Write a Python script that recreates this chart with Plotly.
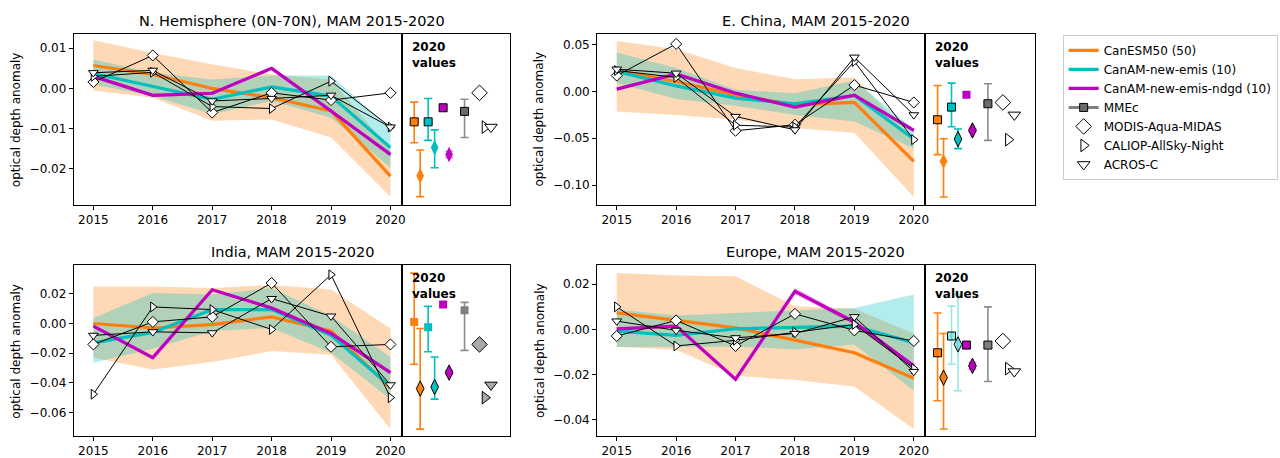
import plotly.graph_objects as go

years = [2015, 2016, 2017, 2018, 2019, 2020]

titles = ["N. Hemisphere (0N-70N), MAM 2015-2020", "E. China, MAM 2015-2020",
          "India, MAM 2015-2020", "Europe, MAM 2015-2020"]
names_models = ["CanESM50 (50)", "CanAM-new-emis (10)", "CanAM-new-emis-ndgd (10)", "MMEc"]
names_obs = ["MODIS-Aqua-MIDAS", "CALIOP-AllSky-Night", "ACROS-C"]

# ---------------- N. Hemisphere ----------------
nh_canesm = [0.0057, 0.0035, 0.0000, -0.0023, -0.0056, -0.0218]
nh_canesm_lo = [-0.0005, -0.0023, -0.0080, -0.0077, -0.0122, -0.0269]
nh_canesm_hi = [0.0120, 0.0088, 0.0060, 0.0035, 0.0022, -0.0153]
nh_new = [0.0037, 0.0006, -0.0027, 0.0004, -0.0019, -0.0147]
nh_new_lo = [0.0010, -0.0019, -0.0064, -0.0031, -0.0073, -0.0197]
nh_new_hi = [0.0072, 0.0039, 0.0022, 0.0032, 0.0032, -0.0100]
nh_ndgd = [0.0030, -0.0017, -0.0012, 0.0050, -0.0056, -0.0164]
nh_ndgd_sp = [0.0004, 0.0004, 0.0004, 0.0004, 0.0004, 0.0006]
nh_modis = [0.0016, 0.0082, -0.0060, -0.0011, -0.0029, -0.0011]
nh_caliop = [0.0030, 0.0040, -0.0045, -0.0050, 0.0018, -0.0096]
nh_acros = [0.0039, 0.0045, -0.0031, -0.0025, -0.0017, -0.0096]
nh_sq = [-0.0083, -0.0083, -0.0048, -0.0057]
nh_sq_lo = [-0.0135, -0.0129, -0.0051, -0.0122]
nh_sq_hi = [-0.0034, -0.0025, -0.0045, -0.0027]
nh_dm = [-0.0217, -0.0147, -0.0164]
nh_dm_lo = [-0.0269, -0.0197, -0.0172]
nh_dm_hi = [-0.0153, -0.0103, -0.0156]

# ---------------- E. China ----------------
ec_canesm = [0.0224, 0.0107, -0.0036, -0.0142, -0.0117, -0.0746]
ec_canesm_lo = [-0.0213, -0.0250, -0.0300, -0.0390, -0.0440, -0.1127]
ec_canesm_hi = [0.0540, 0.0450, 0.0250, 0.0130, 0.0150, -0.0505]
ec_new = [0.0213, 0.0060, -0.0071, -0.0131, -0.0043, -0.0508]
ec_new_lo = [0.0090, -0.0080, -0.0153, -0.0250, -0.0320, -0.0610]
ec_new_hi = [0.0416, 0.0250, 0.0018, -0.0018, 0.0117, -0.0400]
ec_ndgd = [0.0025, 0.0188, -0.0018, -0.0167, -0.0039, -0.0416]
ec_ndgd_sp = [0.0015, 0.0015, 0.0015, 0.0015, 0.0015, 0.0020]
ec_modis = [0.0170, 0.0508, -0.0420, -0.0355, 0.0068, -0.0117]
ec_caliop = [0.0224, 0.0150, -0.0360, -0.0380, 0.0320, -0.0515]
ec_acros = [0.0238, 0.0195, -0.0267, -0.0410, 0.0366, -0.0250]
ec_sq = [-0.0302, -0.0167, -0.0036, -0.0131]
ec_sq_lo = [-0.0675, -0.0377, -0.0056, -0.0522]
ec_sq_hi = [0.0064, 0.0089, -0.0016, 0.0082]
ec_dm = [-0.0746, -0.0508, -0.0416]
ec_dm_lo = [-0.1127, -0.0610, -0.0436]
ec_dm_hi = [-0.0505, -0.0400, -0.0396]

# ---------------- India ----------------
in_canesm = [0.0000, -0.0030, -0.0007, 0.0045, -0.0050, -0.0435]
in_canesm_lo = [-0.0230, -0.0310, -0.0260, -0.0186, -0.0210, -0.0712]
in_canesm_hi = [0.0250, 0.0250, 0.0240, 0.0260, 0.0230, -0.0034]
in_new = [-0.0130, -0.0060, 0.0094, 0.0094, -0.0080, -0.0425]
in_new_lo = [-0.0264, -0.0170, -0.0050, -0.0030, -0.0197, -0.0510]
in_new_hi = [0.0038, 0.0206, 0.0195, 0.0240, 0.0050, -0.0226]
in_ndgd = [-0.0018, -0.0230, 0.0228, 0.0105, -0.0067, -0.0331]
in_ndgd_sp = [0.0010, 0.0010, 0.0010, 0.0010, 0.0010, 0.0012]
in_modis = [-0.0141, 0.0011, 0.0045, 0.0273, -0.0157, -0.0141]
in_caliop = [-0.0477, 0.0112, 0.0094, -0.0040, 0.0329, -0.0500]
in_acros = [-0.0080, -0.0056, -0.0063, 0.0168, 0.0050, -0.0414]
in_sq = [0.0011, -0.0025, 0.0128, 0.0090]
in_sq_lo = [-0.0275, -0.0190, 0.0113, -0.0181]
in_sq_hi = [0.0340, 0.0116, 0.0143, 0.0143]
in_dm = [-0.0439, -0.0428, -0.0331]
in_dm_lo = [-0.0712, -0.0510, -0.0346]
in_dm_hi = [-0.0034, -0.0226, -0.0316]

# ---------------- Europe ----------------
eu_canesm = [0.0073, 0.0040, 0.0007, -0.0047, -0.0103, -0.0216]
eu_canesm_lo = [-0.0076, -0.0090, -0.0205, -0.0223, -0.0252, -0.0440]
eu_canesm_hi = [0.0250, 0.0238, 0.0235, 0.0103, 0.0091, -0.0018]
eu_new = [-0.0007, -0.0026, 0.0003, 0.0010, 0.0015, -0.0059]
eu_new_lo = [-0.0078, -0.0076, -0.0076, -0.0088, -0.0066, -0.0271]
eu_new_hi = [0.0088, 0.0062, 0.0073, 0.0085, 0.0095, 0.0154]
eu_ndgd = [0.0003, 0.0015, -0.0220, 0.0169, 0.0032, -0.0161]
eu_ndgd_sp = [0.0006, 0.0006, 0.0008, 0.0014, 0.0010, 0.0010]
eu_modis = [-0.0029, 0.0040, -0.0073, 0.0069, -0.0004, -0.0051]
eu_caliop = [0.0100, -0.0073, -0.0048, -0.0012, 0.0022, -0.0173]
eu_acros = [0.0037, -0.0004, -0.0037, -0.0018, 0.0056, -0.0186]
eu_sq = [-0.0103, -0.0029, -0.0069, -0.0069]
eu_sq_lo = [-0.0315, -0.0154, -0.0074, -0.0230]
eu_sq_hi = [0.0073, 0.0103, -0.0064, 0.0100]
eu_dm = [-0.0213, -0.0066, -0.0161]
eu_dm_lo = [-0.0440, -0.0271, -0.0176]
eu_dm_hi = [-0.0018, 0.0154, -0.0146]

# side-panel horizontal slots (pixel units within the side panel)
side_sq_x = [12.5, 26.5, 41.5, 63]
side_dm_x = [18.5, 33, 47.5]
side_obs_x = [78, 83.5, 89.5]

W, H = 1280, 458
ORANGE = "#ff7f0e"
CYAN = "#00bfbf"
MAG = "#bf00bf"
ORANGE_F = "rgba(255,127,14,0.30)"
CYAN_F = "rgba(0,191,191,0.30)"
MAG_F = "rgba(191,0,191,0.30)"
FONT = "DejaVu Sans"

panels = [
    dict(title=titles[0], canesm=(nh_canesm, nh_canesm_lo, nh_canesm_hi), new=(nh_new, nh_new_lo, nh_new_hi),
         ndgd=(nh_ndgd, nh_ndgd_sp), obs=(nh_modis, nh_caliop, nh_acros),
         sq=(nh_sq, nh_sq_lo, nh_sq_hi), dm=(nh_dm, nh_dm_lo, nh_dm_hi),
         yr=[-0.02886, 0.01355], dtick=0.01, px=(74, 403, 512), py=(34, 205),
         sq_edge=[1, 1, 1, 1], dm_edge=[0, 0, 0], obsfill="white", cyan_alpha=1.0),
    dict(title=titles[1], canesm=(ec_canesm, ec_canesm_lo, ec_canesm_hi), new=(ec_new, ec_new_lo, ec_new_hi),
         ndgd=(ec_ndgd, ec_ndgd_sp), obs=(ec_modis, ec_caliop, ec_acros),
         sq=(ec_sq, ec_sq_lo, ec_sq_hi), dm=(ec_dm, ec_dm_lo, ec_dm_hi),
         yr=[-0.1208, 0.0615], dtick=0.05, px=(599, 928, 1038), py=(34, 205),
         sq_edge=[1, 1, 0, 1], dm_edge=[0, 1, 1], obsfill="white", cyan_alpha=1.0),
    dict(title=titles[2], canesm=(in_canesm, in_canesm_lo, in_canesm_hi), new=(in_new, in_new_lo, in_new_hi),
         ndgd=(in_ndgd, in_ndgd_sp), obs=(in_modis, in_caliop, in_acros),
         sq=(in_sq, in_sq_lo, in_sq_hi), dm=(in_dm, in_dm_lo, in_dm_hi),
         yr=[-0.0759, 0.0392], dtick=0.02, px=(74, 403, 512), py=(266, 437),
         sq_edge=[0, 0, 0, 0], dm_edge=[1, 1, 1], obsfill="#a9a9a9", cyan_alpha=1.0),
    dict(title=titles[3], canesm=(eu_canesm, eu_canesm_lo, eu_canesm_hi), new=(eu_new, eu_new_lo, eu_new_hi),
         ndgd=(eu_ndgd, eu_ndgd_sp), obs=(eu_modis, eu_caliop, eu_acros),
         sq=(eu_sq, eu_sq_lo, eu_sq_hi), dm=(eu_dm, eu_dm_lo, eu_dm_hi),
         yr=[-0.0471, 0.0283], dtick=0.02, px=(599, 928, 1038), py=(266, 437),
         sq_edge=[1, 1, 1, 1], dm_edge=[1, 1, 1], obsfill="white", cyan_alpha=0.4),
]

fig = go.Figure()
layout = {}
annotations = []

def band(x, lo, hi, color, xa, ya):
    return go.Scatter(x=list(x) + list(x)[::-1], y=list(hi) + list(lo)[::-1], fill="toself",
                      fillcolor=color, line=dict(width=0), mode="lines", hoverinfo="skip",
                      showlegend=False, xaxis=xa, yaxis=ya)

for i, p in enumerate(panels):
    mi = 2 * i + 1
    si = 2 * i + 2
    xa_m, ya_m = f"x{mi}", f"y{mi}"
    xa_s, ya_s = f"x{si}", f"y{si}"
    x0, xs, x1 = p["px"]
    ytop, ybot = p["py"]
    dom_y = [1 - ybot / H, 1 - ytop / H]
    first = (i == 0)

    c, clo, chi = p["canesm"]
    n, nlo, nhi = p["new"]
    g, gsp = p["ndgd"]
    glo = [a - b for a, b in zip(g, gsp)]
    ghi = [a + b for a, b in zip(g, gsp)]
    fig.add_trace(band(years, clo, chi, ORANGE_F, xa_m, ya_m))
    fig.add_trace(band(years, nlo, nhi, CYAN_F, xa_m, ya_m))
    fig.add_trace(band(years, glo, ghi, MAG_F, xa_m, ya_m))
    for vals, col, nm, rk in [(c, ORANGE, names_models[0], 1), (n, CYAN, names_models[1], 2),
                              (g, MAG, names_models[2], 3)]:
        fig.add_trace(go.Scatter(x=years, y=vals, mode="lines", line=dict(color=col, width=3.2),
                                 name=nm, legendrank=rk, showlegend=first, xaxis=xa_m, yaxis=ya_m))
    syms = ["diamond", "triangle-right", "triangle-down"]
    msz = [8.5, 8.5, 8.5]
    for vals, sym, sz, nm in zip(p["obs"], syms, msz, names_obs):
        fig.add_trace(go.Scatter(x=years, y=vals, mode="lines+markers",
                                 line=dict(color="black", width=1),
                                 marker=dict(symbol=sym, size=sz, color="white",
                                             line=dict(color="black", width=1)),
                                 showlegend=False, xaxis=xa_m, yaxis=ya_m))

    # side panel
    sq, sqlo, sqhi = p["sq"]
    dm, dmlo, dmhi = p["dm"]
    ca = p["cyan_alpha"]
    cyan_s = CYAN if ca == 1.0 else f"rgba(0,191,191,{ca})"
    sq_cols = [ORANGE, cyan_s, MAG, "#7f7f7f"]
    sq_err_cols = [ORANGE, cyan_s, "rgba(191,0,191,0.45)", "#8c8c8c"]
    for k in range(4):
        is_mme = (k == 3)
        fig.add_trace(go.Scatter(
            x=[side_sq_x[k]], y=[sq[k]], mode="lines+markers" if is_mme else "markers",
            line=dict(color="#7f7f7f", width=3),
            marker=dict(symbol="square", size=8, color=sq_cols[k] if not (is_mme and i < 2) else "#6a6a6a",
                        line=dict(color="black", width=p["sq_edge"][k])),
            error_y=dict(type="data", symmetric=False, array=[sqhi[k] - sq[k]], arrayminus=[sq[k] - sqlo[k]],
                         color=sq_err_cols[k], thickness=1.6, width=4),
            name=names_models[3] if is_mme else "", legendrank=4,
            showlegend=(first and is_mme), xaxis=xa_s, yaxis=ya_s))
    dm_cols = [ORANGE, cyan_s, MAG]
    dm_err_cols = [ORANGE, cyan_s, "rgba(191,0,191,0.45)"]
    for k in range(3):
        fig.add_trace(go.Scatter(
            x=[side_dm_x[k]], y=[dm[k]], mode="markers",
            marker=dict(symbol="diamond-tall", size=11, color=dm_cols[k],
                        line=dict(color="black", width=p["dm_edge"][k])),
            error_y=dict(type="data", symmetric=False, array=[dmhi[k] - dm[k]], arrayminus=[dm[k] - dmlo[k]],
                         color=dm_err_cols[k], thickness=1.6, width=4),
            showlegend=False, xaxis=xa_s, yaxis=ya_s))
    side_syms = ["diamond", "triangle-right", "triangle-down"]
    side_sz = [12, 11, 11]
    for k in range(3):
        fig.add_trace(go.Scatter(
            x=[side_obs_x[k]], y=[p["obs"][k][-1]], mode="markers",
            marker=dict(symbol=side_syms[k], size=side_sz[k], color=p["obsfill"],
                        line=dict(color="black", width=1)),
            name=names_obs[k], legendrank=5 + k, showlegend=first, xaxis=xa_s, yaxis=ya_s))

    axline = dict(showline=True, linecolor="black", linewidth=1, mirror=True, zeroline=False,
                  showgrid=False)
    layout[f"xaxis{mi}"] = dict(domain=[x0 / W, xs / W], range=[2014.67, 2020.19], anchor=ya_m,
                                tickvals=years, ticks="outside", ticklen=4, tickcolor="black",
                                tickfont=dict(size=12, color="black", family=FONT), **axline)
    layout[f"yaxis{mi}"] = dict(domain=dom_y, range=p["yr"], anchor=xa_m, dtick=p["dtick"],
                                tickformat=".2f", ticks="outside", ticklen=4, tickcolor="black",
                                tickfont=dict(size=12, color="black", family=FONT), **axline)
    layout[f"xaxis{si}"] = dict(domain=[xs / W, x1 / W], range=[0, x1 - xs], anchor=ya_s,
                                showticklabels=False, ticks="", **axline)
    layout[f"yaxis{si}"] = dict(domain=dom_y, range=p["yr"], anchor=xa_s,
                                showticklabels=False, ticks="", **axline)

    annotations.append(dict(text=p["title"], xref="paper", yref="paper", x=(x0 + x1) / 2 / W,
                            y=1 - (ytop - 13) / H, xanchor="center", yanchor="middle", showarrow=False,
                            font=dict(size=14.5, color="black", family=FONT)))
    annotations.append(dict(text="optical depth anomaly", xref="paper", yref="paper",
                            x=(x0 - 58) / W, y=1 - (ytop + ybot) / 2 / H, textangle=-90,
                            xanchor="center", yanchor="middle", showarrow=False,
                            font=dict(size=12, color="black", family=FONT)))
    annotations.append(dict(text="<b>2020<br>values</b>", xref="paper", yref="paper",
                            x=(xs + 8) / W, y=1 - (ytop + 4) / H, xanchor="left", yanchor="top",
                            align="left", showarrow=False,
                            font=dict(size=12, color="black", family=FONT)))

fig.update_layout(
    width=W, height=H, margin=dict(l=0, r=0, t=0, b=0),
    paper_bgcolor="white", plot_bgcolor="white",
    font=dict(family=FONT, size=12, color="black"),
    annotations=annotations,
    legend=dict(x=1066 / W, y=1 - 35 / H, xanchor="left", yanchor="top",
                bordercolor="#cccccc", borderwidth=1, bgcolor="white",
                font=dict(size=12, family=FONT, color="black"), tracegroupgap=0),
    **layout,
)

fig.write_html("out.html", config={"displayModeBar": False},
               post_script="document.body.style.margin='0';document.body.style.padding='0';")
